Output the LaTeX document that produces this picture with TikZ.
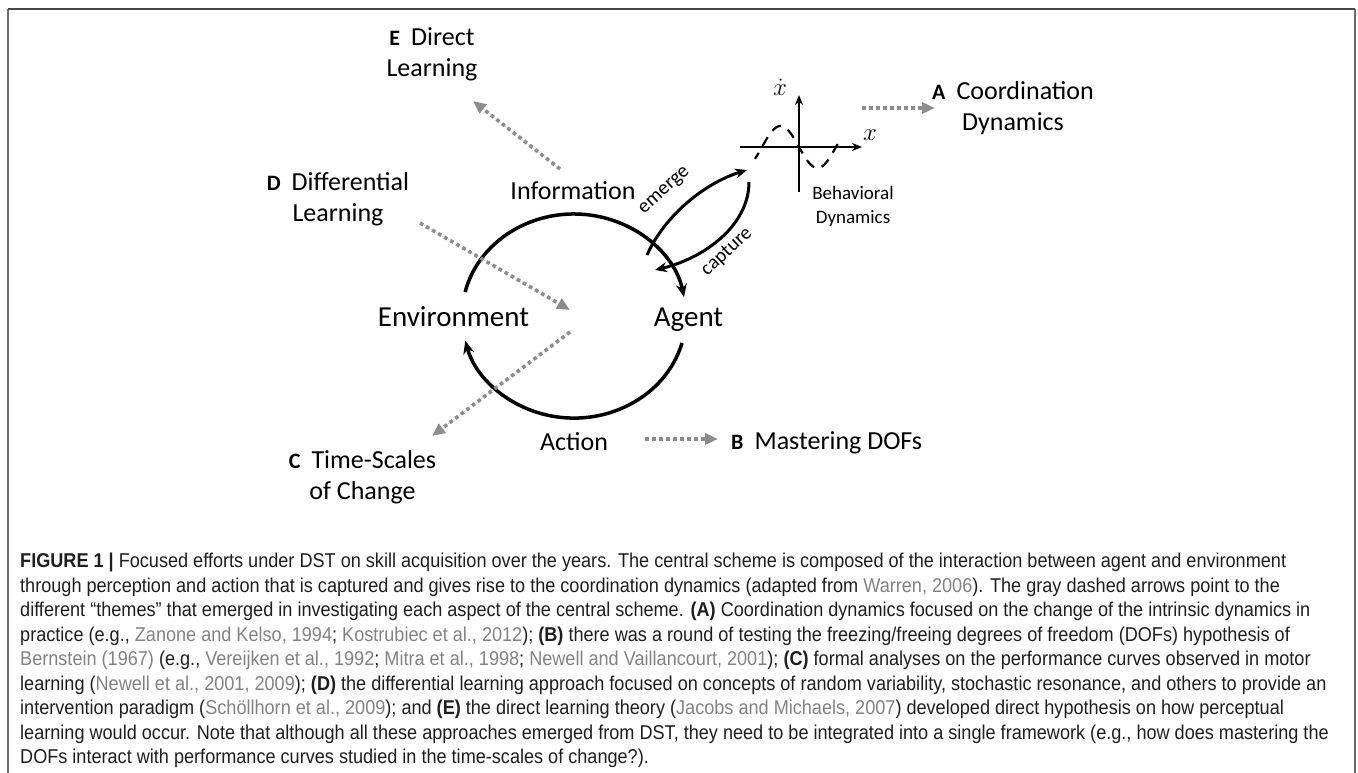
\documentclass[tikz,border=0pt]{standalone}
\usepackage{fontspec}
\setmainfont{Carlito}
\newfontfamily\capfont[FakeStretch=0.905]{Liberation Sans}
\usetikzlibrary{arrows.meta}
\definecolor{themegray}{RGB}{140,140,140}
\definecolor{citegray}{RGB}{130,130,130}
\definecolor{captext}{RGB}{30,30,30}
\definecolor{framedark}{RGB}{70,70,70}
\definecolor{frameside}{RGB}{110,110,110}
\newcommand{\cg}[1]{\textcolor{citegray}{#1}}
\newcommand{\lett}[1]{{\fontsize{22}{22}\selectfont\bfseries #1}\hspace{11pt}}
\begin{document}
\begin{tikzpicture}[x=1pt,y=-1pt,
  lbl/.style={font=\fontsize{26}{31}\selectfont, align=center, inner sep=0},
  bigl/.style={font=\fontsize{29}{34}\selectfont, inner sep=0, anchor=base},
  midl/.style={font=\fontsize{26}{31}\selectfont, inner sep=0, anchor=base},
  smalll/.style={font=\fontsize{20}{20}\selectfont, inner sep=0},
  cycle/.style={line width=3.5pt, -{Stealth[length=13pt,width=11pt]}},
  conn/.style={line width=3pt, -{Stealth[length=12pt,width=10pt]}},
  axis/.style={line width=2.4pt, -{Stealth[length=10pt,width=8pt]}},
  theme/.style={draw=themegray, line width=3.6pt, dash pattern=on 3.6pt off 3.4pt, -{Triangle[length=13pt,width=11pt]}, fill=themegray}
]
\useasboundingbox (0,0) rectangle (1358,773);
% frame
\draw[frameside, line width=1.3pt] (8,773) -- (8,9);
\draw[frameside, line width=1.3pt] (1355,9) -- (1355,773);
\draw[framedark, line width=2pt] (8,9) -- (1355,9);

% central scheme
\node[midl] (info) at (573,200) {Information};
\node[bigl] (env) at (453.5,326.5) {Environment};
\node[bigl] (agent) at (688.5,326.5) {Agent};
\node[midl] (action) at (574,450.5) {Action};

\coordinate (envtop) at (465.1,292);
\coordinate (agentbot) at (682,343);
\draw[cycle] (envtop) arc[start angle=193.6, end angle=349.3, x radius=112, y radius=102];
\draw[cycle] (agentbot) arc[start angle=15.3, end angle=166, x radius=112, y radius=102];

% behavioral dynamics
\coordinate (vbot) at (799,192);
\coordinate (vtop) at (799,95);
\coordinate (hleft) at (740,147);
\coordinate (hright) at (862,147);
\draw[axis] (vbot) -- (vtop);
\draw[axis] (hleft) -- (hright);
\draw[line width=2.2pt, dash pattern=on 10pt off 8pt, dash phase=3pt] plot[domain=755:840, samples=60, smooth] (\x, {147+21*sin(360*(\x-799)/74)});
\node[font=\fontsize{23}{23}\selectfont, inner sep=0] (xdot) at (780,87) {$\dot{x}$};
\node[font=\fontsize{23}{23}\selectfont, inner sep=0] (xlab) at (870,135) {$x$};
\node[font=\fontsize{19}{24}\selectfont, align=center, inner sep=0] (bd) at (853,206.5) {Behavioral\\Dynamics};

% emerge / capture
\coordinate (em0) at (647,255);
\coordinate (em1) at (747,170);
\coordinate (ca0) at (749,182);
\coordinate (ca1) at (655,270);
\draw[conn] (em0) .. controls (665,215) and (705,183) .. (em1);
\draw[conn] (ca0) .. controls (749,225) and (705,258) .. (ca1);
\node[smalll, rotate=42] (emerge) at (665,191) {emerge};
\node[smalll, rotate=43] (capture) at (727,252) {capture};

% theme labels
\node[lbl] (lE) at (432,54.5) {\lett{E}Direct\\Learning};
\node[lbl] (lA) at (1013,108) {\lett{A}Coordination\\Dynamics};
\node[lbl] (lD) at (338,199.5) {\lett{D}Differential\\Learning};
\node[lbl] (lC) at (362.5,477.5) {\lett{C}Time-Scales\\of Change};
\node[midl, anchor=base west] (lB) at (731,449.5) {\lett{B}Mastering DOFs};

% theme arrows
\coordinate (eS) at (560,169); \coordinate (eT) at (473,101);
\coordinate (dS) at (420,223); \coordinate (dT) at (570,310);
\coordinate (cS) at (570,332); \coordinate (cT) at (432,436);
\coordinate (bS) at (645,439); \coordinate (bT) at (718,439);
\coordinate (aS) at (862,108); \coordinate (aT) at (935,108);
\draw[theme] (eS) -- (eT);
\draw[theme] (dS) -- (dT);
\draw[theme] (cS) -- (cT);
\draw[theme] (bS) -- (bT);
\draw[theme] (aS) -- (aT);

% caption
\node[anchor=north west, inner sep=0, align=left, text=captext,
  font=\capfont\fontsize{20}{24.5}\selectfont] (caption) at (20,553) {%
\textbf{FIGURE 1 |} Focused efforts under DST on skill acquisition over the years. The central scheme is composed of the interaction between agent and environment\\
through perception and action that is captured and gives rise to the coordination dynamics (adapted from \cg{Warren, 2006}). The gray dashed arrows point to the\\
different “themes” that emerged in investigating each aspect of the central scheme. \textbf{(A)} Coordination dynamics focused on the change of the intrinsic dynamics in\\
practice (e.g., \cg{Zanone and Kelso, 1994}; \cg{Kostrubiec et al., 2012}); \textbf{(B)} there was a round of testing the freezing/freeing degrees of freedom (DOFs) hypothesis of\\
\cg{Bernstein (1967)} (e.g., \cg{Vereijken et al., 1992}; \cg{Mitra et al., 1998}; \cg{Newell and Vaillancourt, 2001}); \textbf{(C)} formal analyses on the performance curves observed in motor\\
learning (\cg{Newell et al., 2001, 2009}); \textbf{(D)} the differential learning approach focused on concepts of random variability, stochastic resonance, and others to provide an\\
intervention paradigm (\cg{Schöllhorn et al., 2009}); and \textbf{(E)} the direct learning theory (\cg{Jacobs and Michaels, 2007}) developed direct hypothesis on how perceptual\\
learning would occur. Note that although all these approaches emerged from DST, they need to be integrated into a single framework (e.g., how does mastering the\\
DOFs interact with performance curves studied in the time-scales of change?).};
\end{tikzpicture}
\end{document}
